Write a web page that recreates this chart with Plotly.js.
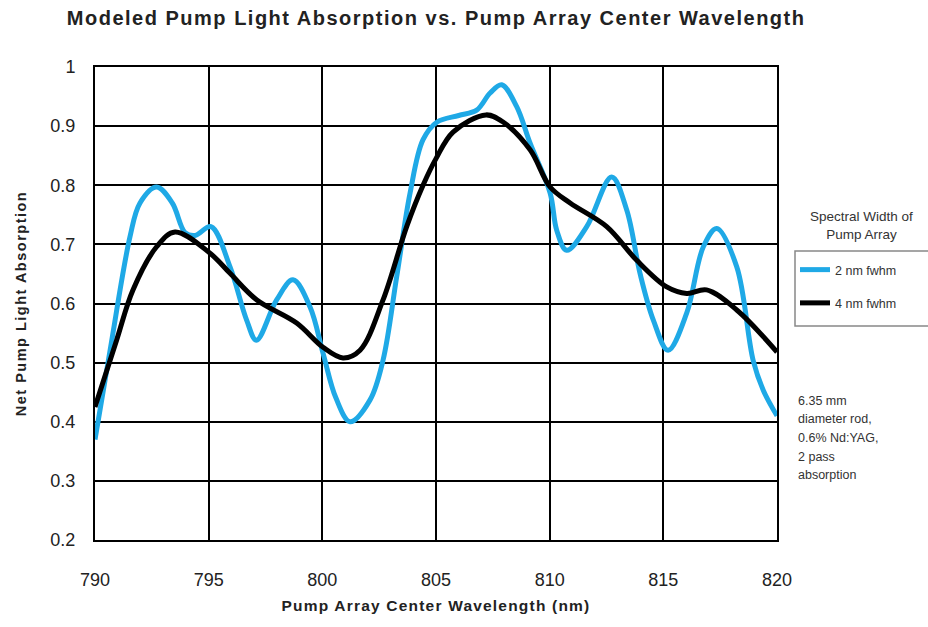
<!DOCTYPE html>
<html><head><meta charset="utf-8">
<script src="https://cdn.plot.ly/plotly-3.0.1.min.js"></script>
<style>
html,body{margin:0;padding:0;background:#fff}#chart{width:928px;height:627px}
.gtitle{letter-spacing:1.5px}
.xtitle{letter-spacing:1.2px}
.ytitle{letter-spacing:1.5px}
.legtitle text{letter-spacing:0.6px}
</style>
</head><body><div id="chart"></div>
<script>
// 2 nm fwhm series
const wl2 = [790.0, 790.66, 791.54, 791.98, 792.71, 793.4, 793.96, 794.4, 795.1, 795.94, 796.67, 797.1, 797.99, 798.71, 799.46, 800.03, 800.6, 801.22, 802.1, 802.67, 803.27, 803.86, 804.43, 805.05, 806.0, 806.79, 807.38, 807.89, 808.55, 809.14, 810.02, 810.31, 810.75, 811.63, 812.73, 813.39, 813.98, 814.56, 815.21, 816.03, 816.76, 817.35, 818.23, 818.95, 819.4, 820.0];
const abs2 = [0.37, 0.52, 0.713, 0.77, 0.797, 0.77, 0.72, 0.715, 0.73, 0.662, 0.572, 0.538, 0.606, 0.64, 0.594, 0.516, 0.44, 0.40, 0.437, 0.504, 0.645, 0.787, 0.877, 0.907, 0.918, 0.927, 0.956, 0.97, 0.933, 0.871, 0.787, 0.724, 0.69, 0.73, 0.814, 0.758, 0.65, 0.572, 0.521, 0.584, 0.696, 0.727, 0.662, 0.504, 0.453, 0.41];
// 4 nm fwhm series
const wl4 = [790.0, 790.95, 791.67, 792.71, 793.52, 795.06, 795.94, 797.12, 798.87, 800.03, 800.91, 801.66, 802.67, 803.71, 804.43, 805.0, 805.75, 807.2, 807.95, 809.14, 810.02, 810.9, 812.51, 813.83, 815.15, 816.03, 816.9, 818.23, 820.0];
const abs4 = [0.425, 0.538, 0.623, 0.696, 0.721, 0.685, 0.651, 0.606, 0.567, 0.526, 0.508, 0.521, 0.606, 0.73, 0.80, 0.845, 0.89, 0.919, 0.907, 0.86, 0.797, 0.77, 0.73, 0.673, 0.628, 0.617, 0.623, 0.589, 0.518];
const seriesNames = ["2 nm fwhm", "4 nm fwhm"];
const xTicks = [790, 795, 800, 805, 810, 815, 820];
const yTicks = [0.2, 0.3, 0.4, 0.5, 0.6, 0.7, 0.8, 0.9, 1];
const yTickText = ["0.2", "0.3", "0.4", "0.5", "0.6", "0.7", "0.8", "0.9", "1"];
const noteLines = ["6.35 mm", "diameter rod,", "0.6% Nd:YAG,", "2 pass", "absorption"];

const traces = [
  {x: wl2, y: abs2, name: seriesNames[0], legendgroup: "a", mode: "lines", line: {color: "#1fa9e6", width: 5, shape: "spline", smoothing: 1}},
  {x: wl4, y: abs4, name: seriesNames[1], legendgroup: "b", mode: "lines", line: {color: "#000000", width: 5, shape: "spline", smoothing: 1}}
];
const font = "Liberation Sans, Arial, sans-serif";
const plotTop = 67, plotBottom = 540;
const py = v => (plotBottom - v) / (plotBottom - plotTop);
const px = v => (v - 95) / 682;

const annotations = [
  {xref: "paper", yref: "paper", x: px(862), y: py(225), xanchor: "center", yanchor: "middle", showarrow: false,
    text: "Spectral Width of<br>Pump Array", font: {size: 13.5, color: "#333"}, align: "center"}
];
const noteY = [401, 419, 438, 457, 475];
noteLines.forEach((t, i) => annotations.push({xref: "paper", yref: "paper", x: px(796), y: py(noteY[i]), xanchor: "left", yanchor: "middle",
  showarrow: false, text: t, font: {size: 12.5, color: "#333"}, align: "left"}));

const layout = {
  width: 928, height: 627,
  margin: {l: 95, r: 151, t: 67, b: 87},
  paper_bgcolor: "#fff", plot_bgcolor: "#fff",
  font: {family: font, color: "#222"},
  title: {text: "<b>Modeled Pump Light Absorption vs. Pump Array Center Wavelength</b>", font: {size: 20, color: "#222", family: font}, x: 0.47, xanchor: "center", y: 0.971, yanchor: "middle"},
  xaxis: {range: [790, 820], tickvals: xTicks, showgrid: true, gridcolor: "#000", gridwidth: 2,
    showline: true, linecolor: "#000", linewidth: 2, mirror: true, zeroline: false,
    ticks: "outside", ticklen: 22, tickcolor: "rgba(0,0,0,0)", tickfont: {size: 18, color: "#222"},
    title: {text: "<b>Pump Array Center Wavelength (nm)</b>", font: {size: 15.5, color: "#222"}, standoff: 12}},
  yaxis: {range: [0.2, 1], tickvals: yTicks, ticktext: yTickText, showgrid: true, gridcolor: "#000", gridwidth: 2,
    showline: true, linecolor: "#000", linewidth: 2, mirror: true, zeroline: false,
    ticks: "outside", ticklen: 14, tickcolor: "rgba(0,0,0,0)", tickfont: {size: 18, color: "#222"},
    title: {text: "<b>Net Pump Light Absorption</b>", font: {size: 14.5, color: "#222"}, standoff: 20}},
  showlegend: true,
  legend: {x: px(795), xanchor: "left", y: py(255), yanchor: "top", bgcolor: "rgba(0,0,0,0)", borderwidth: 0,
    font: {size: 12.5, color: "#333"}, itemwidth: 30, tracegroupgap: 14},
  shapes: [
    {type: "rect", xref: "paper", yref: "paper", x0: px(795), x1: px(940), y0: py(326), y1: py(251), line: {color: "#888", width: 1.5}}
  ],
  annotations: annotations
};
Plotly.newPlot("chart", traces, layout, {displayModeBar: false, staticPlot: true});
</script></body></html>
